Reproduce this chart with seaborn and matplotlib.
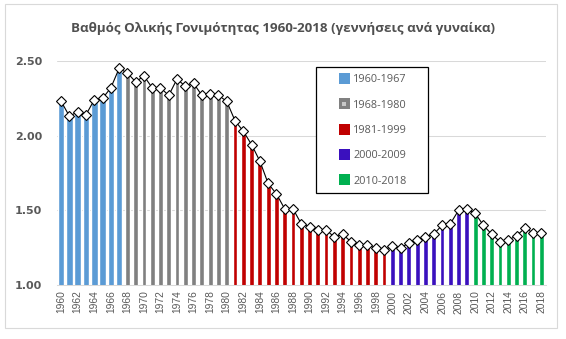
import numpy as np
import pandas as pd
import matplotlib
matplotlib.use("Agg")
import matplotlib.pyplot as plt
import seaborn as sns
from matplotlib.legend_handler import HandlerBase
from matplotlib.patches import Rectangle, Patch

# ---------------- data ----------------
years = list(range(1960, 2019))
tfr = [2.23, 2.13, 2.16, 2.14, 2.24, 2.25, 2.32, 2.45,
       2.42, 2.36, 2.40, 2.32, 2.32, 2.27, 2.38, 2.33, 2.35, 2.27, 2.28, 2.27, 2.23,
       2.10, 2.03, 1.94, 1.83, 1.68, 1.61, 1.51, 1.51, 1.41, 1.39, 1.37, 1.37, 1.32,
       1.34, 1.29, 1.27, 1.27, 1.245, 1.235,
       1.26, 1.25, 1.28, 1.30, 1.32, 1.34, 1.40, 1.41, 1.50, 1.51,
       1.48, 1.40, 1.34, 1.29, 1.30, 1.33, 1.38, 1.35, 1.35]
periods = ["1960-1967", "1968-1980", "1981-1999", "2000-2009", "2010-2018"]
period_start = [1960, 1968, 1981, 2000, 2010]
period_end = [1967, 1980, 1999, 2009, 2018]
period_colors = ["#5B9BD5", "#808080", "#C00000", "#3A10BE", "#00B050"]
bar_widths = [0.8, 0.58, 0.58, 0.58, 0.58]
title = "Βαθμός Ολικής Γονιμότητας 1960-2018 (γεννήσεις ανά γυναίκα)"

period_of = []
for y in years:
    for p, s, e in zip(periods, period_start, period_end):
        if s <= y <= e:
            period_of.append(p)
df = pd.DataFrame({"year": years, "tfr": tfr, "period": period_of})

# ---------------- figure ----------------
sns.set_style("white")
W, H = 566, 339
fig = plt.figure(figsize=(W / 100, H / 100), dpi=100)
ax = fig.add_axes([57 / W, (H - 285) / H, 488.5 / W, 224 / H])

for p, c, w in zip(periods, period_colors, bar_widths):
    sub = df[df["period"] == p]
    sns.barplot(data=sub, x="year", y="tfr", native_scale=True, color=c,
                width=w, saturation=1, errorbar=None, ax=ax, zorder=2)

sns.lineplot(data=df, x="year", y="tfr", color="black", lw=0.8, marker="D",
             markersize=5.5, markerfacecolor="white", markeredgecolor="black",
             markeredgewidth=0.8, ax=ax, zorder=5, legend=False, clip_on=False)

ax.set_xlim(1959.5, 2018.5)
ax.set_ylim(1.0, 2.5)
ax.set_xlabel("")
ax.set_ylabel("")

ax.set_yticks([1.0, 1.5, 2.0, 2.5])
ax.set_yticklabels([f"{v:.2f}" for v in [1.0, 1.5, 2.0, 2.5]],
                   fontsize=8, fontweight="bold", color="#595959",
                   family="DejaVu Sans")
xt = years[::2]
ax.set_xticks(xt)
ax.set_xticklabels([str(y) for y in xt], rotation=90, fontsize=7.4,
                   color="#595959", family="Liberation Sans")
ax.tick_params(axis="y", length=0, pad=10.5)
ax.tick_params(axis="x", length=0, pad=4)

ax.yaxis.grid(True, color="#D9D9D9", lw=0.75)
ax.xaxis.grid(False)
ax.set_axisbelow(True)
for s in ["left", "right", "top"]:
    ax.spines[s].set_visible(False)
ax.spines["bottom"].set_color("#D9D9D9")
ax.spines["bottom"].set_linewidth(0.75)

# title
fig.text(0.5, 1 - 31.7 / H, title, ha="center", va="baseline", fontsize=9.6,
         fontweight="bold", family="Open Sans", color="#505050")

# legend
class SquareHandler(HandlerBase):
    def __init__(self, color, inner=None, size=7.9):
        super().__init__()
        self.color = color
        self.inner = inner
        self.size = size

    def create_artists(self, legend, orig_handle, xdescent, ydescent, width,
                       height, fontsize, trans):
        s = self.size
        x0 = -xdescent + width - s
        y0 = -ydescent + height / 2 - s / 2
        arts = [Rectangle((x0, y0), s, s, facecolor=self.color,
                          edgecolor="none", transform=trans)]
        if self.inner is not None:
            si = s * 0.36
            arts.append(Rectangle((x0 + (s - si) / 2, y0 + (s - si) / 2), si, si,
                                  facecolor=self.inner, edgecolor="none",
                                  transform=trans))
        return arts

handles = [Patch(color=c) for c in period_colors]
hmap = {}
for i, (h, c) in enumerate(zip(handles, period_colors)):
    hmap[h] = SquareHandler(c, inner="#C8C8C8" if i == 1 else None)

leg = ax.legend(handles, periods, handler_map=hmap, loc="upper left",
                bbox_to_anchor=(316 / W, 1 - 192 / H, 112 / W, 125 / H),
                bbox_transform=fig.transFigure, mode="expand",
                borderaxespad=0, labelcolor="#595959",
                frameon=True, fancybox=False, framealpha=1, edgecolor="black",
                borderpad=0.62, labelspacing=1.27, handlelength=2.5,
                handleheight=1.0, handletextpad=0.3,
                prop={"family": "Open Sans", "size": 7.8})
leg.get_frame().set_linewidth(0.9)

# chart border
fig.add_artist(Rectangle((5 / W, 1 - 328 / H), 552 / W, 324 / H,
                         transform=fig.transFigure, fill=False,
                         edgecolor="#D9D9D9", lw=0.8))

fig.savefig("out.png", dpi=100)
